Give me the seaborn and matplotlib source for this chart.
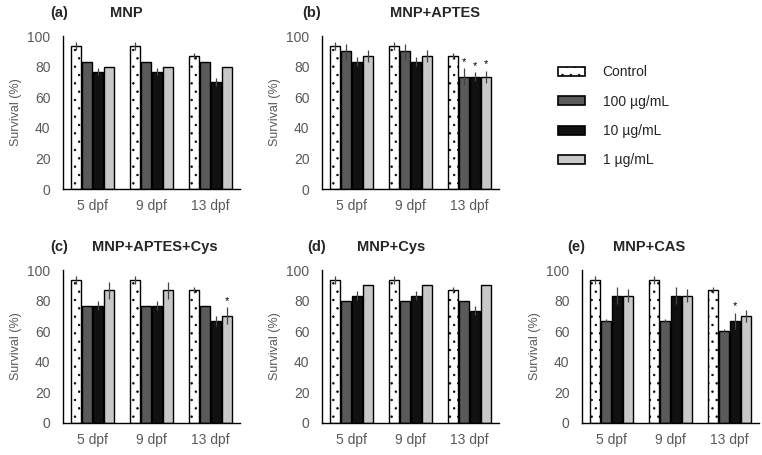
import matplotlib
matplotlib.use("Agg")
import matplotlib.pyplot as plt
import seaborn as sns
import pandas as pd
from matplotlib.patches import Patch

sns.set_style("white")
plt.rcParams["font.family"] = ["Liberation Sans", "DejaVu Sans"]
plt.rcParams["hatch.linewidth"] = 0.5

days = ["5 dpf", "9 dpf", "13 dpf"]
groups = ["Control", "100 µg/mL", "10 µg/mL", "1 µg/mL"]
colors = ["white", "#5a5a5a", "#111111", "#c8c8c8"]

# rows = Control, 100, 10, 1 ; columns = 5, 9, 13 dpf
mnp_means = [[93.3, 93.3, 86.7], [83.3, 83.3, 83.3], [76.7, 76.7, 70.0], [80.0, 80.0, 80.0]]
mnp_errs = [[2.5, 2.5, 2.0], [0, 0, 0], [2.5, 2.5, 2.5], [0, 0, 0]]
mnp_stars = []

aptes_means = [[93.3, 93.3, 86.7], [90.0, 90.0, 73.3], [83.3, 83.3, 73.3], [86.7, 86.7, 73.3]]
aptes_errs = [[2.5, 2.5, 2.0], [5.0, 5.0, 5.5], [3.0, 3.0, 3.0], [4.0, 4.0, 4.0]]
aptes_stars = [(1, 2), (2, 2), (3, 2)]

aptcys_means = [[93.3, 93.3, 86.7], [76.7, 76.7, 76.7], [76.7, 76.7, 66.7], [86.7, 86.7, 70.0]]
aptcys_errs = [[2.5, 2.5, 2.0], [0, 0, 0], [3.0, 3.0, 3.0], [5.5, 5.5, 5.5]]
aptcys_stars = [(3, 2)]

cys_means = [[93.3, 93.3, 86.7], [80.0, 80.0, 80.0], [83.3, 83.3, 73.3], [90.0, 90.0, 90.0]]
cys_errs = [[2.5, 2.5, 2.0], [0, 0, 0], [3.0, 3.0, 3.0], [0, 0, 0]]
cys_stars = []

cas_means = [[93.3, 93.3, 86.7], [66.7, 66.7, 60.0], [83.3, 83.3, 66.7], [83.3, 83.3, 70.0]]
cas_errs = [[2.5, 2.5, 2.0], [1.5, 1.5, 1.5], [5.5, 5.5, 5.5], [4.0, 4.0, 4.0]]
cas_stars = [(2, 2)]

# tag, title, data, axes left/top in px, tag x, title x (axes fraction)
panels = [
    ("(a)", "MNP", mnp_means, mnp_errs, mnp_stars, 63, 36, -0.02, 0.36),
    ("(b)", "MNP+APTES", aptes_means, aptes_errs, aptes_stars, 322, 36, -0.06, 0.64),
    ("(c)", "MNP+APTES+Cys", aptcys_means, aptcys_errs, aptcys_stars, 63, 270, -0.02, 0.52),
    ("(d)", "MNP+Cys", cys_means, cys_errs, cys_stars, 322, 270, -0.03, 0.39),
    ("(e)", "MNP+CAS", cas_means, cas_errs, cas_stars, 582, 270, -0.03, 0.38),
]

W, H = 762, 455
fig = plt.figure(figsize=(W / 100, H / 100), dpi=100)
grey = "#595959"

for tag, name, means, errs, stars, px, py, tx, nx in panels:
    ax = fig.add_axes([px / W, 1 - (py + 153) / H, 177 / W, 153 / H])
    rows = []
    for gi, g in enumerate(groups):
        for di, d in enumerate(days):
            rows.append({"day": d, "group": g, "survival": means[gi][di]})
    df = pd.DataFrame(rows)
    sns.barplot(data=df, x="day", y="survival", hue="group", order=days,
                hue_order=groups, palette=colors, errorbar=None, width=0.74,
                gap=0.1, edgecolor="black", linewidth=1.0, legend=False, ax=ax)
    bar_sets = list(ax.containers)
    for gi, cont in enumerate(bar_sets):
        for di, bar in enumerate(cont.patches):
            if gi == 0:
                bar.set_hatch("..")
            xc = bar.get_x() + bar.get_width() / 2
            if errs[gi][di] > 0:
                ax.errorbar(xc, means[gi][di], yerr=errs[gi][di], fmt="none",
                            ecolor="#444444", elinewidth=0.9, capsize=0)
            if (gi, di) in stars:
                ax.text(xc, means[gi][di] + errs[gi][di] + 1.0, "*", ha="center",
                        va="bottom", fontsize=8, color="black")
    ax.set_ylim(0, 100)
    ax.set_yticks(range(0, 101, 20))
    ax.set_xlim(-0.5, 2.5)
    ax.set_xlabel("")
    ax.set_ylabel("Survival (%)", color=grey, fontsize=9, labelpad=4)
    ax.tick_params(axis="both", length=0, labelsize=10, colors=grey)
    ax.tick_params(axis="y", pad=9)
    ax.tick_params(axis="x", pad=7)
    sns.despine(ax=ax)
    for s in ["left", "bottom"]:
        ax.spines[s].set_color("black")
        ax.spines[s].set_linewidth(1.0)
    ax.text(tx, 1.15, tag, transform=ax.transAxes, fontsize=10.5, fontweight="bold",
            ha="center", va="center")
    ax.text(nx, 1.15, name, transform=ax.transAxes, fontsize=10.5, fontweight="bold",
            ha="center", va="center")

handles = [Patch(facecolor=c, edgecolor="black", linewidth=1.2,
                 hatch=".." if i == 0 else None) for i, c in enumerate(colors)]
fig.legend(handles, groups, loc="upper left", bbox_to_anchor=(545 / W, 1 - 53 / H),
           frameon=False, fontsize=10, handlelength=1.95, handleheight=0.6,
           labelspacing=1.1, handletextpad=1.3)

fig.savefig("out.png", dpi=100)
